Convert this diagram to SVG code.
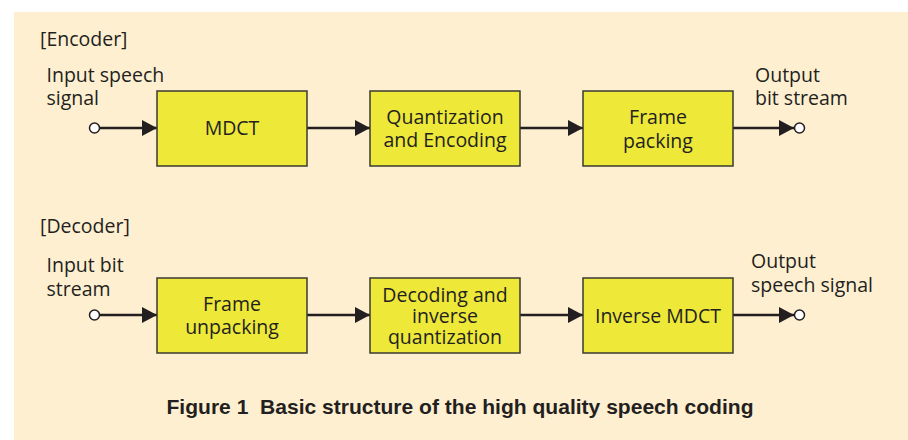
<svg xmlns="http://www.w3.org/2000/svg" width="908" height="440" viewBox="0 0 908 440">
  <style>
    .lbl { font-family: "Open Sans", "Liberation Sans", sans-serif; font-size: 19.5px; fill: #231f20; }
    .mid { text-anchor: middle; }
    .box { fill: #eee838; stroke: #3a3a32; stroke-width: 1.5; }
    .wire { stroke: #231f20; stroke-width: 2.6; fill: none; }
    .term { fill: #ffffff; stroke: #231f20; stroke-width: 1.5; }
    .title { font-family: "Liberation Sans", Arial, sans-serif; font-size: 21px; font-weight: bold; fill: #231f20; white-space: pre; }
  </style>
  <defs>
    <marker id="arrow" viewBox="0 0 15 16" refX="15" refY="8" markerWidth="15" markerHeight="16" markerUnits="userSpaceOnUse" orient="auto">
      <path d="M0,0 L15,8 L0,16 Z" fill="#231f20"/>
    </marker>
  </defs>

  <!-- page background -->
  <rect x="0" y="0" width="908" height="440" fill="#ffffff"/>
  <rect x="14" y="12" width="894" height="428" fill="#feefd1"/>

  <!-- section headings and terminal labels -->
  <text class="lbl" x="40" y="46">[Encoder]</text>
  <text class="lbl" x="46.5" y="82">Input speech</text>
  <text class="lbl" x="46.5" y="105">signal</text>
  <text class="lbl" x="755" y="82">Output</text>
  <text class="lbl" x="755" y="105">bit stream</text>

  <text class="lbl" x="40" y="233">[Decoder]</text>
  <text class="lbl" x="46.5" y="272">Input bit</text>
  <text class="lbl" x="46.5" y="296">stream</text>
  <text class="lbl" x="751" y="268">Output</text>
  <text class="lbl" x="751" y="292">speech signal</text>

  <!-- connectors -->
  <g id="connectors">
    <line class="wire" x1="99" y1="128" x2="157" y2="128" marker-end="url(#arrow)"/>
    <line class="wire" x1="307" y1="128" x2="370" y2="128" marker-end="url(#arrow)"/>
    <line class="wire" x1="520" y1="128" x2="583" y2="128" marker-end="url(#arrow)"/>
    <line class="wire" x1="733" y1="128" x2="794" y2="128" marker-end="url(#arrow)"/>
    <circle class="term" cx="94.5" cy="128" r="5"/>
    <circle class="term" cx="799.5" cy="128" r="5"/>

    <line class="wire" x1="99" y1="315" x2="157" y2="315" marker-end="url(#arrow)"/>
    <line class="wire" x1="307" y1="315" x2="370" y2="315" marker-end="url(#arrow)"/>
    <line class="wire" x1="520" y1="315" x2="583" y2="315" marker-end="url(#arrow)"/>
    <line class="wire" x1="733" y1="315" x2="794" y2="315" marker-end="url(#arrow)"/>
    <circle class="term" cx="94.5" cy="315" r="5"/>
    <circle class="term" cx="799.5" cy="315" r="5"/>
  </g>

  <!-- encoder blocks -->
  <g id="mdct">
    <rect class="box" x="157" y="91" width="150" height="75"/>
    <text class="lbl mid" x="232" y="135">MDCT</text>
  </g>
  <g id="quantization-encoding">
    <rect class="box" x="370" y="91" width="150" height="75"/>
    <text class="lbl mid" x="445" y="124">Quantization</text>
    <text class="lbl mid" x="445" y="147">and Encoding</text>
  </g>
  <g id="frame-packing">
    <rect class="box" x="583" y="91" width="150" height="75"/>
    <text class="lbl mid" x="658" y="124">Frame</text>
    <text class="lbl mid" x="658" y="148">packing</text>
  </g>

  <!-- decoder blocks -->
  <g id="frame-unpacking">
    <rect class="box" x="157" y="278" width="150" height="75"/>
    <text class="lbl mid" x="232" y="311">Frame</text>
    <text class="lbl mid" x="232" y="334">unpacking</text>
  </g>
  <g id="decoding-inverse-quantization">
    <rect class="box" x="370" y="278" width="150" height="75"/>
    <text class="lbl mid" x="445" y="302">Decoding and</text>
    <text class="lbl mid" x="445" y="323">inverse</text>
    <text class="lbl mid" x="445" y="344">quantization</text>
  </g>
  <g id="inverse-mdct">
    <rect class="box" x="583" y="278" width="150" height="75"/>
    <text class="lbl mid" x="658" y="323">Inverse MDCT</text>
  </g>

  <!-- caption -->
  <text class="title" x="166.5" y="414" textLength="587" lengthAdjust="spacingAndGlyphs">Figure 1  Basic structure of the high quality speech coding</text>
</svg>
